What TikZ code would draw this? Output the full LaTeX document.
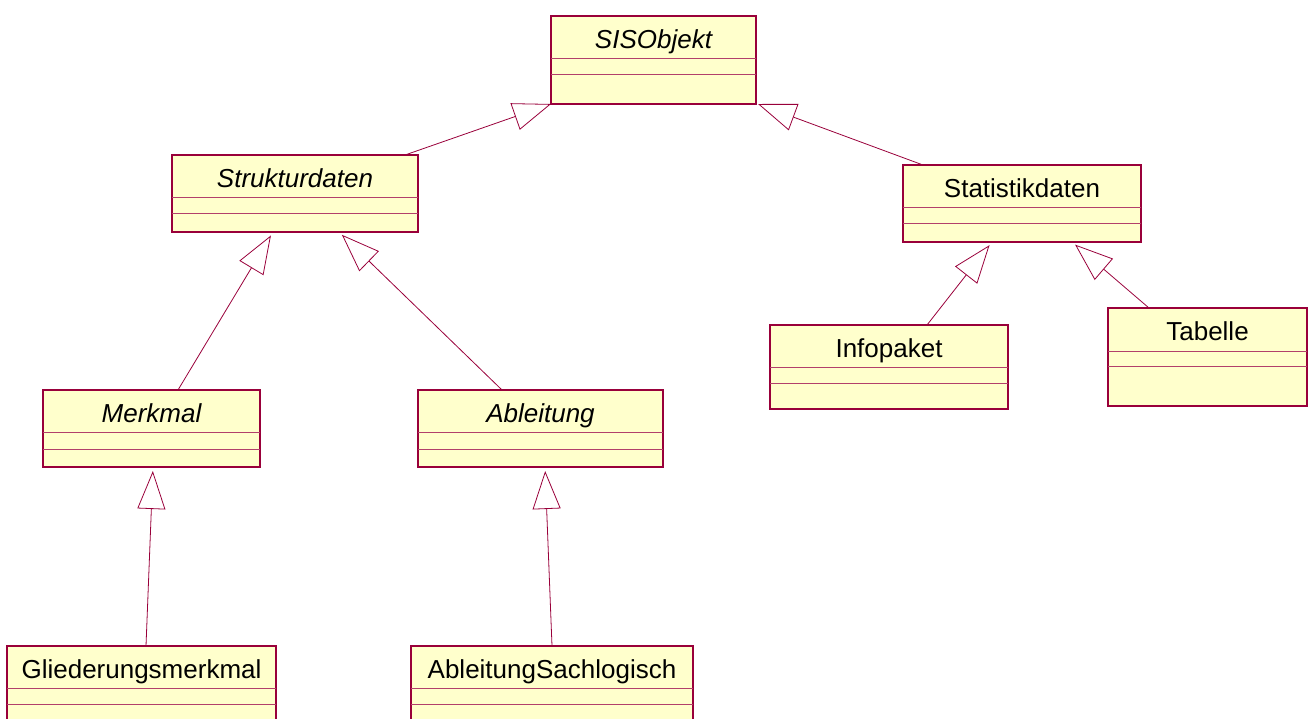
\documentclass[tikz,border=0pt]{standalone}
\usepackage{fontspec}
\setmainfont{Liberation Sans}
\usetikzlibrary{arrows.meta}

\definecolor{umlline}{RGB}{153,0,58}
\definecolor{umlfill}{RGB}{255,255,204}

\tikzset{
  classbox/.style={draw=umlline, fill=umlfill, line width=1.2pt, rectangle,
    inner sep=0pt, outer sep=0pt, anchor=north west},
  classname/.style={anchor=base, inner sep=0pt, font=\fontsize{26}{30}\selectfont},
  divider/.style={draw=umlline!75, line width=1pt},
  inherit/.style={draw=umlline, line width=0.8pt, shorten >=4pt,
    -{Triangle[open, length=38pt, width=28pt]}}
}

\begin{document}
\begin{tikzpicture}[x=1pt, y=-1pt]
  \useasboundingbox (0,0) rectangle (1308,718);
  \clip (0,0) rectangle (1308,718);

  % classes
  \node[classbox, minimum width=205pt, minimum height=88pt] (sis) at (551,16) {};
  \node[classname] (sisname) at ([yshift=-32.5pt]sis.north) {\itshape SISObjekt};
  \draw[divider] ([yshift=-42pt]sis.north west) -- ([yshift=-42pt]sis.north east);
  \draw[divider] ([yshift=-58pt]sis.north west) -- ([yshift=-58pt]sis.north east);

  \node[classbox, minimum width=246pt, minimum height=77pt] (strukt) at (172,155) {};
  \node[classname] (struktname) at ([yshift=-32.5pt]strukt.north) {\itshape Strukturdaten};
  \draw[divider] ([yshift=-42pt]strukt.north west) -- ([yshift=-42pt]strukt.north east);
  \draw[divider] ([yshift=-58pt]strukt.north west) -- ([yshift=-58pt]strukt.north east);

  \node[classbox, minimum width=238pt, minimum height=77pt] (stat) at (903,165) {};
  \node[classname] (statname) at ([yshift=-32.5pt]stat.north) {Statistikdaten};
  \draw[divider] ([yshift=-42pt]stat.north west) -- ([yshift=-42pt]stat.north east);
  \draw[divider] ([yshift=-58pt]stat.north west) -- ([yshift=-58pt]stat.north east);

  \node[classbox, minimum width=217pt, minimum height=77pt] (merk) at (43,390) {};
  \node[classname] (merkname) at ([yshift=-32.5pt]merk.north) {\itshape Merkmal};
  \draw[divider] ([yshift=-42pt]merk.north west) -- ([yshift=-42pt]merk.north east);
  \draw[divider] ([yshift=-59pt]merk.north west) -- ([yshift=-59pt]merk.north east);

  \node[classbox, minimum width=245pt, minimum height=77pt] (abl) at (418,390) {};
  \node[classname] (ablname) at ([yshift=-32.5pt]abl.north) {\itshape Ableitung};
  \draw[divider] ([yshift=-42pt]abl.north west) -- ([yshift=-42pt]abl.north east);
  \draw[divider] ([yshift=-59pt]abl.north west) -- ([yshift=-59pt]abl.north east);

  \node[classbox, minimum width=238pt, minimum height=84pt] (info) at (770,325) {};
  \node[classname] (infoname) at ([yshift=-32.5pt]info.north) {Infopaket};
  \draw[divider] ([yshift=-42pt]info.north west) -- ([yshift=-42pt]info.north east);
  \draw[divider] ([yshift=-58pt]info.north west) -- ([yshift=-58pt]info.north east);

  \node[classbox, minimum width=199pt, minimum height=98pt] (tab) at (1108,308) {};
  \node[classname] (tabname) at ([yshift=-32.5pt]tab.north) {Tabelle};
  \draw[divider] ([yshift=-43pt]tab.north west) -- ([yshift=-43pt]tab.north east);
  \draw[divider] ([yshift=-58pt]tab.north west) -- ([yshift=-58pt]tab.north east);

  \node[classbox, minimum width=269pt, minimum height=94pt] (glied) at (7,646) {};
  \node[classname] (gliedname) at ([yshift=-32.5pt]glied.north) {Gliederungsmerkmal};
  \draw[divider] ([yshift=-42pt]glied.north west) -- ([yshift=-42pt]glied.north east);
  \draw[divider] ([yshift=-58pt]glied.north west) -- ([yshift=-58pt]glied.north east);

  \node[classbox, minimum width=282pt, minimum height=94pt] (ablsach) at (411,646) {};
  \node[classname] (ablsachname) at ([yshift=-32.5pt]ablsach.north) {AbleitungSachlogisch};
  \draw[divider] ([yshift=-42pt]ablsach.north west) -- ([yshift=-42pt]ablsach.north east);
  \draw[divider] ([yshift=-58pt]ablsach.north west) -- ([yshift=-58pt]ablsach.north east);

  % generalisations
  \draw[inherit, shorten >=0pt] ([xshift=233pt]strukt.north west) -- (sis.south west);
  \draw[inherit, shorten >=0pt] ([xshift=20pt]stat.north west) -- ([xshift=2pt]sis.south east);
  \draw[inherit] ([xshift=135pt]merk.north west) -- ([xshift=101pt]strukt.south west);
  \draw[inherit] ([xshift=84pt]abl.north west) -- ([xshift=167pt]strukt.south west);
  \draw[inherit] ([xshift=157pt]info.north west) -- ([xshift=89pt]stat.south west);
  \draw[inherit] ([xshift=41pt]tab.north west) -- ([xshift=169pt]stat.south west);
  \draw[inherit] ([xshift=139pt]glied.north west) -- ([xshift=110pt]merk.south west);
  \draw[inherit] ([xshift=141pt]ablsach.north west) -- ([xshift=127pt]abl.south west);
\end{tikzpicture}
\end{document}
